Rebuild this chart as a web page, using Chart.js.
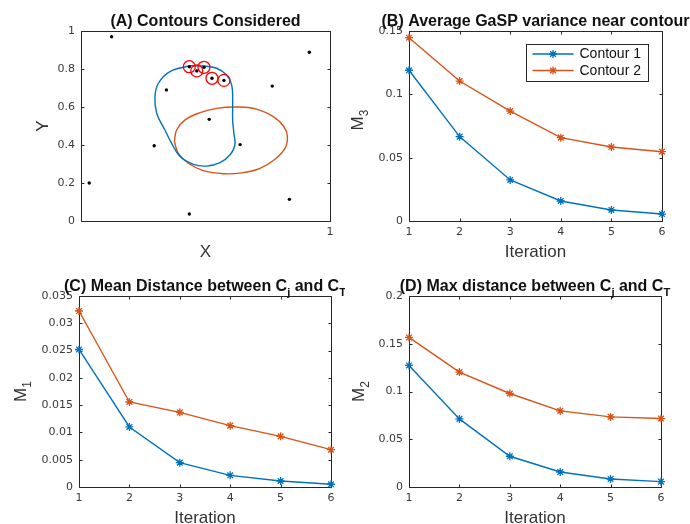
<!DOCTYPE html>
<html>
<head>
<meta charset="utf-8">
<script src="https://cdn.jsdelivr.net/npm/chart.js@4.4.1/dist/chart.umd.min.js"></script>
<style>
  html, body { margin: 0; padding: 0; background: #fff; }
  #page { position: relative; width: 690px; height: 524px; }
  .panel { position: absolute; width: 345px; height: 262px; }
</style>
</head>
<body>
<div id="page">
  <div class="panel" style="left:0;top:0"><canvas id="panelA" width="345" height="262"></canvas></div>
  <div class="panel" style="left:345px;top:0"><canvas id="panelB" width="345" height="262"></canvas></div>
  <div class="panel" style="left:0;top:262px"><canvas id="panelC" width="345" height="262"></canvas></div>
  <div class="panel" style="left:345px;top:262px"><canvas id="panelD" width="345" height="262"></canvas></div>
</div>
<script>
// (A) design points and the two contours
const designX = [0.123, 0.917, 0.033, 0.294, 0.343, 0.515, 0.639, 0.768, 0.837, 0.435, 0.435, 0.465, 0.494, 0.526, 0.574];
const designY = [0.970, 0.888, 0.200, 0.396, 0.690, 0.535, 0.402, 0.710, 0.114, 0.037, 0.812, 0.790, 0.809, 0.751, 0.740];
const addedX = [0.435, 0.465, 0.494, 0.526, 0.574];
const addedY = [0.812, 0.790, 0.809, 0.751, 0.740];

const contour1X = [0.438, 0.491, 0.545, 0.585, 0.605, 0.609, 0.609, 0.614, 0.618, 0.598, 0.558, 0.505, 0.451, 0.398, 0.364, 0.337, 0.304, 0.297, 0.311, 0.357, 0.438];
const contour1Y = [0.817, 0.816, 0.804, 0.768, 0.716, 0.637, 0.532, 0.461, 0.400, 0.347, 0.307, 0.289, 0.298, 0.339, 0.409, 0.479, 0.567, 0.654, 0.725, 0.786, 0.817];
const contour2X = [0.375, 0.384, 0.418, 0.478, 0.545, 0.625, 0.705, 0.772, 0.815, 0.829, 0.819, 0.779, 0.719, 0.645, 0.572, 0.491, 0.431, 0.391, 0.375];
const contour2Y = [0.418, 0.479, 0.532, 0.570, 0.593, 0.600, 0.589, 0.549, 0.496, 0.444, 0.382, 0.325, 0.277, 0.253, 0.249, 0.265, 0.304, 0.356, 0.418];

// (B)-(D) metrics per iteration
const iterations = [1, 2, 3, 4, 5, 6];
const m3Contour1 = [0.1190, 0.0666, 0.0324, 0.0158, 0.0087, 0.0055];
const m3Contour2 = [0.1447, 0.1105, 0.0868, 0.0658, 0.0584, 0.0547];
const m1Contour1 = [0.0252, 0.0110, 0.00446, 0.00214, 0.0011, 0.0005];
const m1Contour2 = [0.03225, 0.01558, 0.01368, 0.01124, 0.00928, 0.00684];
const m2Contour1 = [0.1273, 0.0713, 0.0322, 0.0157, 0.0084, 0.0056];
const m2Contour2 = [0.1566, 0.1203, 0.0979, 0.0797, 0.0734, 0.0717];

const seriesNames = ['Contour 1', 'Contour 2'];

// tick labels
const unitTicks = [0, 0.2, 0.4, 0.6, 0.8, 1];
const xTicksA = [1];
const m3Ticks = [0, 0.05, 0.1, 0.15];
const m1Ticks = [0, 0.005, 0.01, 0.015, 0.02, 0.025, 0.03, 0.035];
const m2Ticks = [0, 0.05, 0.1, 0.15, 0.2];

const BLUE = '#0072BD';
const ORANGE = '#D95319';
const SANS = '"Liberation Sans", Arial, sans-serif';
const TICK_FONT = { family: '"DejaVu Sans", sans-serif', size: 11 };

const toPoints = (xs, ys) => xs.map((x, i) => ({ x: x, y: ys[i] }));
const fmt = v => String(Number(v.toFixed(4)));

// text with optional subscripts: parts = [[text, isSub], ...]
function drawParts(ctx, parts, x, y, rot, size, weight) {
  const fontFor = sub => weight + ' ' + (sub ? size * 0.7 : size) + 'px ' + SANS;
  let w = 0;
  parts.forEach(p => { ctx.font = fontFor(p[1]); w += ctx.measureText(p[0]).width; });
  ctx.save();
  ctx.translate(x, y);
  ctx.rotate(rot);
  ctx.textAlign = 'left';
  ctx.textBaseline = 'alphabetic';
  let cx = -w / 2;
  parts.forEach(p => {
    ctx.font = fontFor(p[1]);
    ctx.fillText(p[0], cx, p[1] ? size * 0.3 : 0);
    cx += ctx.measureText(p[0]).width;
  });
  ctx.restore();
}

const panelText = {
  id: 'panelText',
  afterDraw(chart, args, o) {
    const { ctx, chartArea: a } = chart;
    const cx = (a.left + a.right) / 2;
    const cy = (a.top + a.bottom) / 2;
    ctx.save();
    ctx.fillStyle = '#111';
    drawParts(ctx, o.title, cx, a.top - 5, 0, 16, 'bold');
    ctx.fillStyle = '#333';
    drawParts(ctx, o.xTitle, cx, a.bottom + 36, 0, 17, 'normal');
    drawParts(ctx, o.yTitle, a.left - o.yGap, cy + (o.yShift || 0), -Math.PI / 2, 17, 'normal');
    ctx.restore();
  }
};

// box around the axes with inward ticks on all four sides
const frameTicks = {
  id: 'frameTicks',
  beforeDatasetsDraw(chart) {
    const { ctx, chartArea: a, scales } = chart;
    const L = Math.round(a.left) + 0.5, R = Math.round(a.right) + 0.5;
    const T = Math.round(a.top) + 0.5, B = Math.round(a.bottom) + 0.5;
    ctx.save();
    ctx.strokeStyle = '#262626';
    ctx.lineWidth = 1;
    ctx.beginPath();
    ctx.rect(L, T, R - L, B - T);
    scales.x.ticks.forEach(t => {
      const p = Math.round(scales.x.getPixelForValue(t.value)) + 0.5;
      ctx.moveTo(p, B); ctx.lineTo(p, B - 3);
      ctx.moveTo(p, T); ctx.lineTo(p, T + 3);
    });
    scales.y.ticks.forEach(t => {
      const p = Math.round(scales.y.getPixelForValue(t.value)) + 0.5;
      ctx.moveTo(L, p); ctx.lineTo(L + 3, p);
      ctx.moveTo(R, p); ctx.lineTo(R - 3, p);
    });
    ctx.stroke();
    ctx.restore();
  }
};

function asterisk(ctx, x, y, r) {
  ctx.beginPath();
  for (let k = 0; k < 4; k++) {
    const ang = k * Math.PI / 4;
    ctx.moveTo(x - Math.cos(ang) * r, y - Math.sin(ang) * r);
    ctx.lineTo(x + Math.cos(ang) * r, y + Math.sin(ang) * r);
  }
  ctx.stroke();
}

// boxed legend inside the axes, top right (panel B only)
const boxLegend = {
  id: 'boxLegend',
  afterDatasetsDraw(chart, args, o) {
    if (!o.show) return;
    const { ctx, chartArea: a } = chart;
    const w = 122, h = 37;
    const x0 = Math.round(a.right - 14 - w) + 0.5, y0 = Math.round(a.top + 13) + 0.5;
    ctx.save();
    ctx.fillStyle = '#fff';
    ctx.fillRect(x0, y0, w, h);
    ctx.strokeStyle = '#262626';
    ctx.lineWidth = 1;
    ctx.strokeRect(x0, y0, w, h);
    chart.data.datasets.forEach((ds, i) => {
      const y = y0 + 9.5 + i * 16.5;
      ctx.strokeStyle = ds.borderColor;
      ctx.lineWidth = 1.4;
      ctx.beginPath();
      ctx.moveTo(x0 + 6, y); ctx.lineTo(x0 + 47, y);
      ctx.stroke();
      ctx.lineWidth = 1.3;
      asterisk(ctx, x0 + 26.5, y, 4);
      ctx.fillStyle = '#111';
      ctx.font = '14px ' + SANS;
      ctx.textBaseline = 'middle';
      ctx.fillText(ds.label, x0 + 53, y + 0.5);
    });
    ctx.restore();
  }
};

function fixedTicks(values) {
  return scale => { scale.ticks = values.map(v => ({ value: v })); };
}

function baseOptions(p) {
  return {
    responsive: false,
    animation: false,
    events: [],
    layout: { padding: { left: 0, right: p.right, top: p.top, bottom: 0 } },
    plugins: {
      legend: { display: false },
      tooltip: { enabled: false },
      panelText: { title: p.title, xTitle: p.xTitle, yTitle: p.yTitle, yGap: p.yGap, yShift: p.yShift },
      boxLegend: { show: !!p.legend }
    },
    scales: {
      x: {
        type: 'linear', min: p.xMin, max: p.xMax,
        grid: { display: false, drawTicks: false },
        border: { display: false },
        afterFit: s => { s.height = p.xHeight; },
        afterBuildTicks: fixedTicks(p.xTicks),
        ticks: { color: '#3a3a3a', font: TICK_FONT, padding: 5, maxRotation: 0, callback: fmt }
      },
      y: {
        type: 'linear', min: p.yMin, max: p.yMax,
        grid: { display: false, drawTicks: false },
        border: { display: false },
        afterFit: s => { s.width = p.yWidth; },
        afterBuildTicks: fixedTicks(p.yTicks),
        ticks: { color: '#3a3a3a', font: TICK_FONT, padding: 6, callback: fmt }
      }
    }
  };
}

function metricSet(label, values, color) {
  return {
    label: label,
    data: toPoints(iterations, values),
    borderColor: color,
    backgroundColor: color,
    borderWidth: 1.4,
    pointStyle: 'star',
    pointRadius: 4,
    pointBorderWidth: 1.3,
    pointBorderColor: color,
    tension: 0,
    clip: false
  };
}

const plugins = [frameTicks, boxLegend, panelText];

// (A) Contours considered
new Chart(document.getElementById('panelA'), {
  type: 'scatter',
  data: {
    datasets: [
      {
        data: toPoints(designX, designY),
        pointRadius: 1.7, pointBorderWidth: 0,
        backgroundColor: '#000', borderColor: '#000'
      },
      {
        data: toPoints(addedX, addedY),
        pointRadius: 6, pointBorderWidth: 1.3,
        backgroundColor: 'rgba(0,0,0,0)', pointBorderColor: '#FF0000', borderColor: '#FF0000'
      },
      {
        data: toPoints(contour1X, contour1Y),
        showLine: true, pointRadius: 0, borderColor: BLUE, borderWidth: 1.4, tension: 0.4
      },
      {
        data: toPoints(contour2X, contour2Y),
        showLine: true, pointRadius: 0, borderColor: ORANGE, borderWidth: 1.4, tension: 0.4
      }
    ]
  },
  options: baseOptions({
    right: 15, top: 31, xHeight: 41, yWidth: 81,
    xMin: 0, xMax: 1, yMin: 0, yMax: 1, xTicks: xTicksA, yTicks: unitTicks,
    title: [['(A) Contours Considered']], xTitle: [['X']], yTitle: [['Y']], yGap: 33
  }),
  plugins: plugins
});

// (B) Average GaSP variance near contour
new Chart(document.getElementById('panelB'), {
  type: 'line',
  data: { datasets: [metricSet(seriesNames[0], m3Contour1, BLUE), metricSet(seriesNames[1], m3Contour2, ORANGE)] },
  options: baseOptions({
    right: 28, top: 31, xHeight: 41, yWidth: 64,
    xMin: 1, xMax: 6, yMin: 0, yMax: 0.15, xTicks: iterations, yTicks: m3Ticks,
    title: [['(B) Average GaSP variance near contour']], xTitle: [['Iteration']],
    yTitle: [['M'], ['3', true]], yGap: 46, yShift: -6, legend: true
  }),
  plugins: plugins
});

// (C) Mean distance
new Chart(document.getElementById('panelC'), {
  type: 'line',
  data: { datasets: [metricSet(seriesNames[0], m1Contour1, BLUE), metricSet(seriesNames[1], m1Contour2, ORANGE)] },
  options: baseOptions({
    right: 14, top: 34, xHeight: 37, yWidth: 79,
    xMin: 1, xMax: 6, yMin: 0, yMax: 0.035, xTicks: iterations, yTicks: m1Ticks,
    title: [['(C) Mean Distance between C'], ['j', true], [' and C'], ['T', true]], xTitle: [['Iteration']],
    yTitle: [['M'], ['1', true]], yGap: 53
  }),
  plugins: plugins
});

// (D) Max distance
new Chart(document.getElementById('panelD'), {
  type: 'line',
  data: { datasets: [metricSet(seriesNames[0], m2Contour1, BLUE), metricSet(seriesNames[1], m2Contour2, ORANGE)] },
  options: baseOptions({
    right: 29, top: 34, xHeight: 37, yWidth: 64,
    xMin: 1, xMax: 6, yMin: 0, yMax: 0.2, xTicks: iterations, yTicks: m2Ticks,
    title: [['(D) Max distance between C'], ['j', true], [' and C'], ['T', true]], xTitle: [['Iteration']],
    yTitle: [['M'], ['2', true]], yGap: 45
  }),
  plugins: plugins
});
</script>
</body>
</html>
